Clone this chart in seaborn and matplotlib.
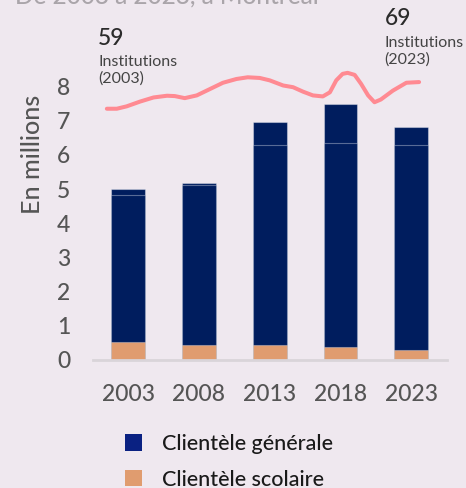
import matplotlib
matplotlib.use("Agg")
import matplotlib.pyplot as plt
from matplotlib.patches import Patch
import numpy as np
import pandas as pd
import seaborn as sns

# values (millions)
years = ["2003", "2008", "2013", "2018", "2023"]
scolaire = [0.53, 0.45, 0.45, 0.38, 0.30]
generale_a = [4.31, 4.66, 5.85, 5.98, 6.00]
generale_b = [0.15, 0.07, 0.65, 1.13, 0.53]

# decorative institutions curve (x in bar positions, y in axis units)
curve_x = [-0.30, -0.16, -0.02, 0.17, 0.36, 0.55, 0.66, 0.80, 0.97, 1.16, 1.34,
           1.53, 1.69, 1.86, 2.00, 2.19, 2.33, 2.47, 2.61, 2.75, 2.85, 2.94,
           3.03, 3.10, 3.20, 3.29, 3.39, 3.48, 3.57, 3.74, 3.93, 4.11]
curve_y = [7.35, 7.35, 7.42, 7.56, 7.68, 7.73, 7.72, 7.66, 7.74, 7.93, 8.11,
           8.22, 8.27, 8.25, 8.18, 8.03, 7.98, 7.85, 7.74, 7.71, 7.83, 8.18,
           8.37, 8.40, 8.34, 8.08, 7.74, 7.54, 7.62, 7.88, 8.11, 8.13]

inst_first, inst_last = "59", "69"

BG = "#efe8ef"
NAVY = "#001d5e"
PEACH = "#e09c6f"
PINK = "#ff8a92"

sns.set_theme(style="white")
plt.rcParams["font.family"] = ["Lato", "DejaVu Sans"]

df = pd.DataFrame({"Year": years, "scol": scolaire, "ga": generale_a, "gb": generale_b})
df["total"] = df.scol + df.ga + df.gb
df["mid"] = df.scol + df.ga

fig = plt.figure(figsize=(4.66, 4.88), dpi=100, facecolor=BG)
ax = fig.add_axes([92.7 / 466, 1 - 360 / 488, 354 / 466, 294 / 488])
ax.set_facecolor(BG)

edge = (1, 1, 1, 0.35)
sns.barplot(data=df, x="Year", y="total", color=NAVY, saturation=1, width=0.48,
            edgecolor=edge, linewidth=0.8, ax=ax)
sns.barplot(data=df, x="Year", y="mid", color=NAVY, saturation=1, width=0.48,
            edgecolor=edge, linewidth=0.8, ax=ax)
sns.barplot(data=df, x="Year", y="scol", color=PEACH, saturation=1, width=0.48,
            edgecolor=(1, 1, 1, 0.3), linewidth=0.8, ax=ax)

sns.lineplot(x=curve_x, y=curve_y, color=PINK, linewidth=2.9, ax=ax,
             solid_capstyle="round", solid_joinstyle="round")
for l in ax.lines:
    l.set_clip_on(False)

ax.set_xlim(-0.5, 4.5)
ax.set_ylim(0, 8.6)
ax.set_yticks(range(0, 9))
ax.set_xlabel("")
ax.set_ylabel("")
ax.tick_params(axis="y", length=0, pad=16, labelsize=16.5, labelcolor="#555555")
ax.tick_params(axis="x", length=0, pad=17, labelsize=16.5, labelcolor="#555555")
for lab in ax.get_xticklabels() + ax.get_yticklabels():
    lab.set_fontweight("medium")
for s in ["top", "right", "left"]:
    ax.spines[s].set_visible(False)
ax.spines["bottom"].set_color("#d9d4d9")
ax.spines["bottom"].set_linewidth(2)

fig.text(33 / 466, 1 - 154 / 488, "En millions", rotation=90, ha="center", va="center",
         fontsize=18, color="#555555", fontweight="medium")

# cut-off subtitle at the very top
fig.text(15 / 466, 1 - 4 / 488, "De 2003 à 2023, à Montréal", ha="left", va="baseline",
         fontsize=17.6, color="#aaa5aa", fontweight="medium")

# institution annotations
fig.text(98 / 466, 1 - 45 / 488, inst_first, fontsize=16.5, color="#2b2b2b",
         va="baseline", fontweight="medium")
fig.text(98 / 466, 1 - 66 / 488, "Institutions", fontsize=11.5, color="#444444", va="baseline")
fig.text(98 / 466, 1 - 83 / 488, "(2003)", fontsize=11.5, color="#444444", va="baseline")
fig.text(385 / 466, 1 - 25 / 488, inst_last, fontsize=16.5, color="#2b2b2b",
         va="baseline", fontweight="medium")
fig.text(384 / 466, 1 - 47 / 488, "Institutions", fontsize=11.5, color="#444444", va="baseline")
fig.text(384 / 466, 1 - 64 / 488, "(2023)", fontsize=11.5, color="#444444", va="baseline")

handles = [Patch(facecolor="#0a2182", edgecolor="none", label="Clientèle générale"),
           Patch(facecolor=PEACH, edgecolor="none", label="Clientèle scolaire")]
leg = fig.legend(handles=handles, loc="upper left", bbox_to_anchor=(125 / 466, 1 - 434 / 488),
                 frameon=False, fontsize=15.5, handlelength=0.8, handleheight=0.8,
                 handletextpad=0.9, labelspacing=0.72, borderpad=0, borderaxespad=0)
for t in leg.get_texts():
    t.set_color("#1a1a1a")
    t.set_fontweight("medium")

fig.savefig("out.png", dpi=100, facecolor=BG)
